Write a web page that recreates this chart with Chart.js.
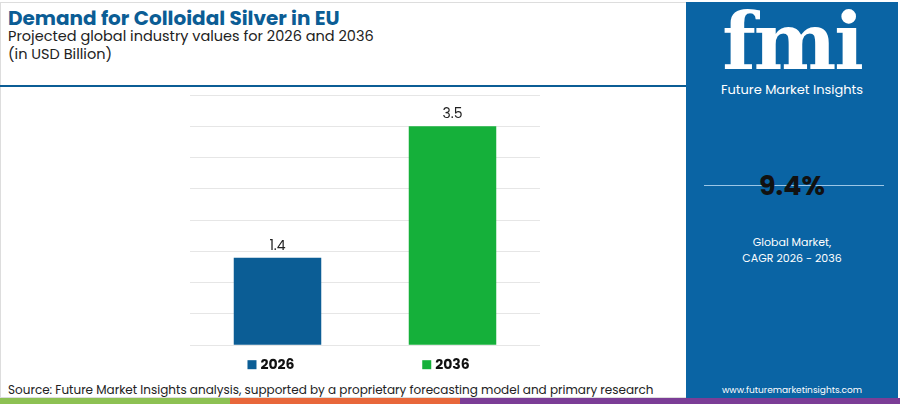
<!DOCTYPE html>
<html><head><meta charset="utf-8">
<script src="https://cdn.jsdelivr.net/npm/chart.js@4"></script>
<style>
  body { margin:0; width:900px; height:404px; overflow:hidden; background:#fff; font-family:Poppins,"Noto Sans",sans-serif; position:relative; }
  .t { position:absolute; left:8px; top:3px; font-size:20px; font-weight:700; color:#0b5d95; }
  .s { position:absolute; left:8px; font-size:14.5px; color:#222; }
  .hr { position:absolute; left:0; top:85px; width:686px; height:2px; background:#0b5d95; }
  .panel { position:absolute; left:686px; top:2px; width:212px; height:396px; background:#0a64a4; color:#fff; text-align:center; }
  .frame { position:absolute; left:0; top:2px; width:898px; height:396px; border:1px solid #ddd; box-sizing:border-box; }
  #wrap { position:absolute; left:160px; top:88px; width:420px; height:290px; }
  .src { position:absolute; left:8px; top:381px; font-size:12px; color:#222; }
  .bar { position:absolute; top:398px; height:6px; }
</style></head><body>
<div class="frame"></div>
<div class="t">Demand for Colloidal Silver in EU</div>
<div class="s" style="top:26px">Projected global industry values for 2026 and 2036</div>
<div class="s" style="top:44px">(in USD Billion)</div>
<div class="hr"></div>
<div class="panel">
  <div style="font-size:78px;font-weight:900;font-family:'DejaVu Serif',serif;margin-top:4px;line-height:72px;letter-spacing:-2px">fmi</div>
  <div style="font-size:13px;margin-top:2px">Future Market Insights</div>
  <div style="position:absolute;left:18px;top:183px;width:180px;height:1px;background:#9cc6e6"></div>
  <div style="position:absolute;left:0;width:212px;top:164px;font-size:27px;font-weight:700;color:#111">9.4%</div>
  <div style="position:absolute;left:0;width:212px;top:232px;font-size:11px;line-height:16px">Global Market,<br>CAGR 2026 - 2036</div>
  <div style="position:absolute;left:0;width:212px;top:382px;font-size:9px">www.futuremarketinsights.com</div>
</div>
<div id="wrap"><canvas id="c"></canvas></div>
<div class="src">Source: Future Market Insights analysis, supported by a proprietary forecasting model and primary research</div>
<div class="bar" style="left:0;width:230px;background:#8dc153"></div>
<div class="bar" style="left:230px;width:230px;background:#e8673a"></div>
<div class="bar" style="left:460px;width:440px;background:#7b3d96"></div>
<script>
const categories = ['2026', '2036'];
const values = [1.4, 3.5];
const colors = ['#0b5d95', '#15b03a'];

const squares = {
  id: 'squares',
  afterDraw(chart) {
    const ctx = chart.ctx, x = chart.scales.x;
    ctx.save();
    ctx.font = 'bold 14px Poppins, "Noto Sans", sans-serif';
    categories.forEach((c, i) => {
      const px = x.getPixelForValue(i);
      const w = ctx.measureText(c).width;
      ctx.fillStyle = colors[i];
      ctx.fillRect(px - w / 2 - 13, chart.chartArea.bottom + 15, 9, 9);
    });
    ctx.restore();
  }
};

new Chart(document.getElementById('c'), {
  type: 'bar',
  data: { labels: categories, datasets: [{ data: values, backgroundColor: colors, barPercentage: 0.5, categoryPercentage: 1 }] },
  options: {
    responsive: true, maintainAspectRatio: false, animation: false,
    layout: { padding: { left: 30, right: 40, top: 7 } },
    plugins: { legend: { display: false }, tooltip: { enabled: false } },
    scales: {
      y: { min: 0, max: 4, ticks: { display: false, stepSize: 0.5 },
           grid: { color: '#e6e6e6', drawTicks: false }, border: { display: false } },
      x: { grid: { display: false }, border: { display: false },
           ticks: { color: '#111', font: { size: 14, weight: 'bold', family: 'Poppins, "Noto Sans", sans-serif' }, padding: 4 } }
    }
  },
  plugins: [squares, {
    id: 'vals',
    afterDatasetsDraw(chart) {
      const ctx = chart.ctx;
      ctx.save();
      ctx.font = '14px Poppins, "Noto Sans", sans-serif';
      ctx.fillStyle = '#222'; ctx.textAlign = 'center';
      chart.getDatasetMeta(0).data.forEach((b, i) => ctx.fillText(values[i].toFixed(1), b.x, b.y - 8));
      ctx.restore();
    }
  }]
});
</script>
</body></html>
